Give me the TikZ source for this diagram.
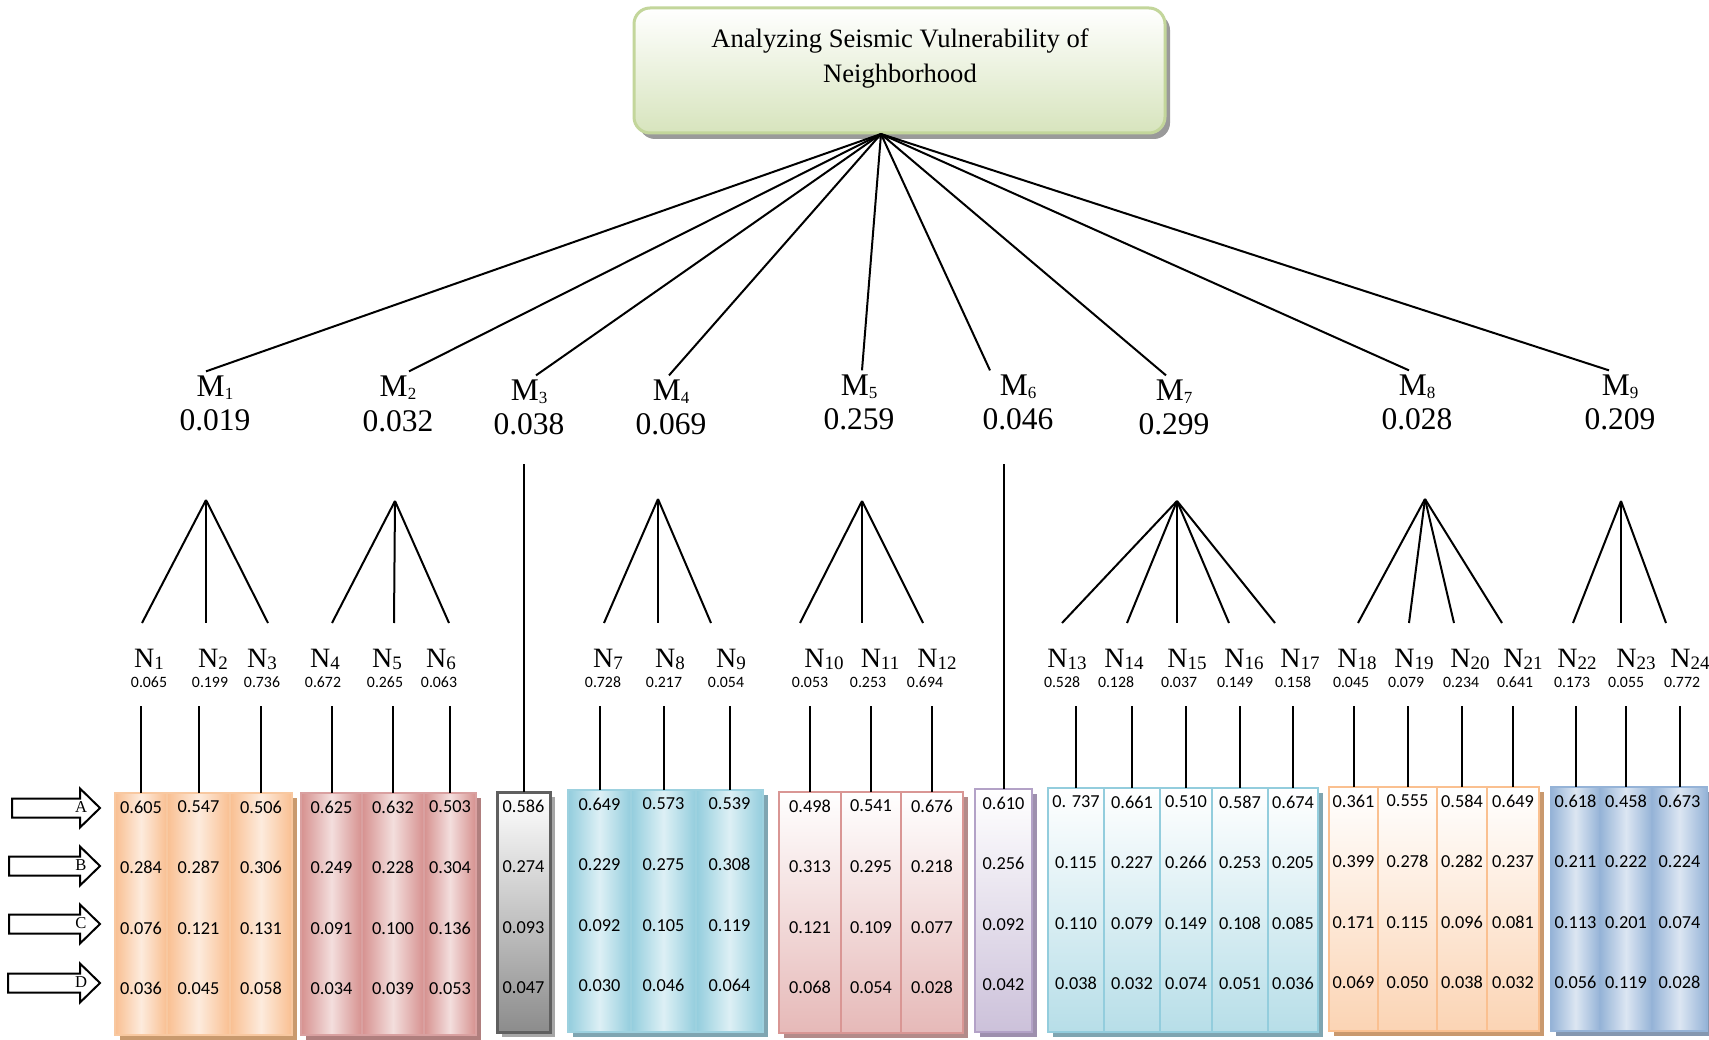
\documentclass[tikz,border=0pt]{standalone}
\usepackage{fontspec}
\setmainfont{Liberation Serif}
\newfontfamily\calib{Carlito}
\usetikzlibrary{calc,shadows}
\definecolor{orgE}{HTML}{F9BF91}
\definecolor{orgM}{HTML}{FDEBDD}
\definecolor{orgB}{HTML}{F8C8A0}
\definecolor{orgS}{HTML}{C99A6E}
\definecolor{redE}{HTML}{D6918F}
\definecolor{redM}{HTML}{F3DEDD}
\definecolor{redB}{HTML}{D9A0A0}
\definecolor{redS}{HTML}{B07F7E}
\definecolor{grayBot}{HTML}{8C8C8C}
\definecolor{grayB}{HTML}{5F5F5F}
\definecolor{grayS}{HTML}{A6A6A6}
\definecolor{aquaE}{HTML}{93CDDD}
\definecolor{aquaM}{HTML}{DDF0F5}
\definecolor{aquaB}{HTML}{9DD1DF}
\definecolor{aquaS}{HTML}{7FA5B1}
\definecolor{pinkBot}{HTML}{E6B9B8}
\definecolor{pinkB}{HTML}{D99694}
\definecolor{pinkS}{HTML}{B38B8A}
\definecolor{purBot}{HTML}{CCC1DA}
\definecolor{purB}{HTML}{B3A2C7}
\definecolor{purS}{HTML}{9E90AE}
\definecolor{tealBot}{HTML}{B7DEE8}
\definecolor{tealB}{HTML}{93CDDD}
\definecolor{tealS}{HTML}{7FA5B1}
\definecolor{ortBot}{HTML}{FBD4B4}
\definecolor{ortB}{HTML}{FAC090}
\definecolor{ortS}{HTML}{C9996E}
\definecolor{bluE}{HTML}{95B3D7}
\definecolor{bluM}{HTML}{DCE6F2}
\definecolor{bluB}{HTML}{95B3D7}
\definecolor{bluS}{HTML}{8497B0}
\definecolor{grnBot}{HTML}{D7E4BD}
\definecolor{grnB}{HTML}{C3D69B}
\definecolor{titS}{HTML}{9A9A9A}

\newcommand\msub[1]{{\fontsize{17}{17}\selectfont\raisebox{-3pt}{#1}}}
\newcommand\nsub[1]{{\fontsize{19}{19}\selectfont\raisebox{-2pt}{#1}}}

\newcommand\colgroup[4]{%
  \foreach \cn/\xl/\xr/\va/\vb/\vc/\vd in {#4}{%
    \node[colbox,#1,anchor=north west,minimum width={(\xr-\xl)*1pt},minimum height={(#3-#2)*1pt}] (\cn) at (\xl,#2) {};
    \foreach \vv [count=\i] in {\va,\vb,\vc,\vd}
      \node[cellval] (\cn-\i) at ($(\cn.north)+(0,{14+60.6*(\i-1)})$) {\vv};
  }}

\begin{document}
\begin{tikzpicture}[x=1pt,y=-1pt,
  conn/.style={line width=2pt,black},
  shad/.style={drop shadow={shadow xshift=5pt,shadow yshift=-5pt,opacity=1,fill=#1}},
  colbox/.style={line width=2.5pt,inner sep=0pt,outer sep=0pt},
  cellval/.style={font=\calib\fontsize{18.3}{20}\selectfont,inner sep=0pt},
  grpA/.style={draw=orgB,left color=orgE,right color=orgE,middle color=orgM,shad=orgS},
  grpB/.style={draw=redB,left color=redE,right color=redE,middle color=redM,shad=redS},
  grpC/.style={draw=grayB,line width=3pt,top color=white,bottom color=grayBot,shad=grayS},
  grpD/.style={draw=aquaB,left color=aquaE,right color=aquaE,middle color=aquaM,shad=aquaS},
  grpE/.style={draw=pinkB,top color=white,bottom color=pinkBot,shad=pinkS},
  grpF/.style={draw=purB,top color=white,bottom color=purBot,shad=purS},
  grpG/.style={draw=tealB,top color=white,bottom color=tealBot,shad=tealS},
  grpH/.style={draw=ortB,top color=white,bottom color=ortBot,shad=ortS},
  grpI/.style={draw=bluB,left color=bluE,right color=bluE,middle color=bluM,shad=bluS},
  titlebox/.style={minimum width=531pt,minimum height=125pt,rounded corners=16pt,draw=grnB,line width=3pt,
    top color=white,bottom color=grnBot,inner sep=0pt,
    drop shadow={shadow xshift=5pt,shadow yshift=-6pt,opacity=1,fill=titS}},
  titletext/.style={align=center,font=\fontsize{26.6}{35}\selectfont,inner sep=0pt},
  mlab/.style={font=\fontsize{31.5}{31.5}\selectfont,inner sep=0pt,outer sep=5pt,anchor=base},
  mval/.style={font=\fontsize{31.5}{31.5}\selectfont,inner sep=0pt,anchor=base},
  nlab/.style={font=\fontsize{28}{28}\selectfont,inner sep=0pt,anchor=base},
  nval/.style={font=\calib\fontsize{15.8}{16}\selectfont,inner sep=0pt,anchor=base},
  arrlab/.style={font=\fontsize{16.6}{17}\selectfont,inner sep=0pt},
  arrowpoly/.style={line width=2pt,fill=white,line join=miter}
]
\path[use as bounding box,fill=white] (0,0) rectangle (1709,1040);

% title
\node[titlebox] (title) at (899.5,70.5) {};
\node[titletext] (titletext) at (900,59) {Analyzing Seismic Vulnerability of\\Neighborhood};
\coordinate (apex) at (881,134);

% criteria M
\foreach \m/\x/\yl/\yv/\s/\val in {m1/215/397/431/1/0.019, m2/398/397/432/2/0.032, m3/529/401/435/3/0.038,
  m4/671/401/435/4/0.069, m5/859/396/430/5/0.259, m6/1018/396/430/6/0.046, m7/1174/401/435/7/0.299,
  m8/1417/396/430/8/0.028, m9/1620/396/430/9/0.209}{
  \node[mlab] (\m) at (\x,\yl) {M\msub{\s}};
  \node[mval] (\m-v) at (\x,\yv) {\val};
}
\foreach \m/\dx in {m1/-9,m2/11,m3/7,m4/-2,m5/3,m6/-28,m7/-8,m8/-8,m9/-11}
  \draw[conn] (apex) -- ([xshift=\dx pt]\m.north);

% sub-criteria N
\foreach \n/\x/\xv/\s/\val in {n1/149/149/1/0.065, n2/213/210/2/0.199, n3/262/262/3/0.736,
  n4/325/323/4/0.672, n5/387/385/5/0.265, n6/441/439/6/0.063, n7/608/603/7/0.728,
  n8/670/664/8/0.217, n9/731/726/9/0.054, n10/824/810/10/0.053, n11/880/868/11/0.253,
  n12/937/925/12/0.694, n13/1067/1062/13/0.528, n14/1124/1116/14/0.128, n15/1187/1179/15/0.037,
  n16/1244/1235/16/0.149, n17/1300/1293/17/0.158, n18/1357/1351/18/0.045, n19/1414/1406/19/0.079,
  n20/1470/1461/20/0.234, n21/1523/1515/21/0.641, n22/1577/1572/22/0.173, n23/1636/1626/23/0.055,
  n24/1690/1682/24/0.772}{
  \node[nlab] (\n) at (\x,667) {N\nsub{\s}};
  \node[nval] (\n-v) at (\xv,687) {\val};
}

% forks
\foreach \f/\fx/\fy in {f1/206/500, f2/395/501, f4/658/499, f5/862/501, f7/1177/501, f8/1425/499, f9/1621/501}
  \coordinate (\f) at (\fx,\fy);
\foreach \f/\l/\x in {f1/1/142,f1/2/206,f1/3/268, f2/4/332,f2/5/394,f2/6/449, f4/7/604,f4/8/658,f4/9/711,
  f5/10/800,f5/11/862,f5/12/923, f7/13/1062,f7/14/1127,f7/15/1177,f7/16/1229,f7/17/1275,
  f8/18/1358,f8/19/1409,f8/20/1454,f8/21/1502, f9/22/1573,f9/23/1621,f9/24/1666}{
  \coordinate (leg\l) at (\x,623);
  \draw[conn] (\f) -- (leg\l);
}

% columns
\colgroup{grpA}{793}{1035}{c1/115/167/0.605/0.284/0.076/0.036, c2/167/230/0.547/0.287/0.121/0.045, c3/230/292/0.506/0.306/0.131/0.058}
\colgroup{grpB}{793}{1035}{c4/301/362/0.625/0.249/0.091/0.034, c5/362/424/0.632/0.228/0.100/0.039, c6/424/476/0.503/0.304/0.136/0.053}
\colgroup{grpC}{792}{1032}{g3/497/550/0.586/0.274/0.093/0.047}
\colgroup{grpD}{790}{1032}{c7/568/631/0.649/0.229/0.092/0.030, c8/631/696/0.573/0.275/0.105/0.046, c9/696/763/0.539/0.308/0.119/0.064}
\colgroup{grpE}{792}{1033}{c10/779/841/0.498/0.313/0.121/0.068, c11/841/901/0.541/0.295/0.109/0.054, c12/901/963/0.676/0.218/0.077/0.028}
\colgroup{grpF}{789}{1032}{g6/975/1032/0.610/0.256/0.092/0.042}
\colgroup{grpG}{788}{1032}{c13/1048/1104/0. 737/0.115/0.110/0.038, c14/1104/1160/0.661/0.227/0.079/0.032, c15/1160/1212/0.510/0.266/0.149/0.074, c16/1212/1268/0.587/0.253/0.108/0.051, c17/1268/1318/0.674/0.205/0.085/0.036}
\colgroup{grpH}{787}{1031}{c18/1329/1378/0.361/0.399/0.171/0.069, c19/1378/1437/0.555/0.278/0.115/0.050, c20/1437/1487/0.584/0.282/0.096/0.038, c21/1487/1539/0.649/0.237/0.081/0.032}
\colgroup{grpI}{787}{1031}{c22/1551/1600/0.618/0.211/0.113/0.056, c23/1600/1652/0.458/0.222/0.201/0.119, c24/1652/1707/0.673/0.224/0.074/0.028}

% verticals from columns to N values
\foreach \i in {1,...,24}
  \draw[conn,shorten >=19pt] (c\i.north) -- (c\i.north |- n\i-v.south);
\draw[conn,shorten >=28pt] (g3.north) -- (g3.north |- m3-v.south);
\draw[conn,shorten >=33pt] (g6.north) -- (g6.north |- m6-v.south);

% alternatives arrows
\foreach \ly/\lt/\xs in {808/A/12, 866/B/9, 924/C/9, 983/D/8}{
  \draw[arrowpoly] (\xs,\ly-9.5) -- (80,\ly-9.5) -- (80,\ly-19.5) -- (100,\ly) -- (80,\ly+19.5) -- (80,\ly+9.5) -- (\xs,\ly+9.5) -- cycle;
  \node[arrlab] (lab\lt) at (81,\ly-1) {\lt};
}
\end{tikzpicture}
\end{document}
